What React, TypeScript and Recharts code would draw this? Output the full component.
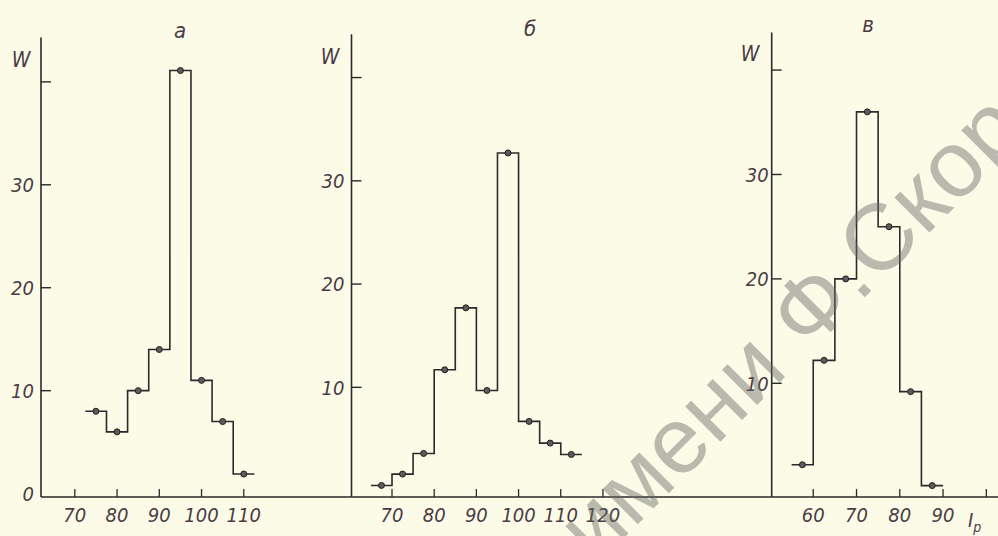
import React from "react";
import { ComposedChart, Line, XAxis, YAxis } from "recharts";

// panel а
const binsA = [75, 80, 85, 90, 95, 100, 105, 110];
const wA = [8, 6, 10, 14, 41.1, 11, 7, 1.9];
const xTicksA = [70, 80, 90, 100, 110];
const yTicksA = [0, 10, 20, 30, 40];

// panel б
const binsB = [67.5, 72.5, 77.5, 82.5, 87.5, 92.5, 97.5, 102.5, 107.5, 112.5];
const wB = [0.5, 1.6, 3.6, 11.7, 17.7, 9.7, 32.7, 6.7, 4.6, 3.5];
const xTicksB = [70, 80, 90, 100, 110, 120];
const yTicksB = [10, 20, 30, 40];

// panel в
const binsC = [57.5, 62.5, 67.5, 72.5, 77.5, 82.5, 87.5];
const wC = [2.2, 12.2, 20, 36, 25, 9.2, 0.2];
const xTicksC = [60, 70, 80, 90, 100];
const yTicksC = [10, 20, 30, 40];

const BIN = 5;
const INK = "#2a2a2a";
const TXT = "#4a3b45";
const FONT = "'Liberation Sans Narrow', 'DejaVu Sans Condensed', 'Liberation Sans', sans-serif";

type PanelProps = {
  bins: number[];
  w: number[];
  xTicks: number[];
  yTicks: number[];
  xDomain: [number, number];
  yDomain: [number, number];
  left: number;
  right: number;
  top: number;
  labelGap: number;
  showZero?: boolean;
  hideX?: number[];
};

function Panel(p: PanelProps) {
  const centers = p.bins.map((x, i) => ({ x, w: p.w[i] }));
  const steps = p.bins.map((x, i) => ({ x: x - BIN / 2, w: p.w[i] }));
  steps.push({ x: p.bins[p.bins.length - 1] + BIN / 2, w: p.w[p.w.length - 1] });

  const yTick = (props: any) => {
    const { x, y, payload } = props;
    const v = payload.value;
    const label = v === 40 ? "" : v === 0 && !p.showZero ? "" : String(v);
    return (
      <g>
        {v !== 0 && <line x1={x} x2={x + 10} y1={y} y2={y} stroke={INK} strokeWidth={1.4} />}
        <text x={x - p.labelGap} y={y} dy="0.36em" textAnchor="end" fontFamily={FONT}
          fontStyle="italic" fontSize={20} fill={TXT}>{label}</text>
      </g>
    );
  };

  const xTick = (props: any) => {
    const { x, y, payload } = props;
    const v = payload.value;
    const hidden = p.hideX && p.hideX.includes(v);
    return (
      <g>
        <line x1={x} x2={x} y1={y} y2={y - 8} stroke={INK} strokeWidth={1.3} />
        {!hidden && (
          <text x={x} y={y + 25} textAnchor="middle" fontFamily={FONT} fontStyle="italic"
            fontSize={20} fill={TXT}>{v}</text>
        )}
      </g>
    );
  };

  const yw = 40;
  return (
    <div style={{ position: "absolute", left: 0, top: 0 }}>
      <ComposedChart width={998} height={536}
        margin={{ left: p.left - yw, right: 998 - p.right, top: p.top, bottom: 0 }}>
        <XAxis type="number" dataKey="x" domain={p.xDomain} ticks={p.xTicks} allowDataOverflow
          height={39} tickSize={0} tickMargin={0} tickLine={false} interval={0}
          axisLine={{ stroke: INK, strokeWidth: 1.6 }} tick={xTick} />
        <YAxis type="number" domain={p.yDomain} ticks={p.yTicks} allowDataOverflow width={yw}
          tickSize={0} tickMargin={0} tickLine={false} interval={0}
          axisLine={{ stroke: INK, strokeWidth: 1.6 }} tick={yTick} />
        <Line data={steps} dataKey="w" type="stepAfter" stroke={INK} strokeWidth={1.6}
          dot={false} isAnimationActive={false} />
        <Line data={centers} dataKey="w" stroke="none" isAnimationActive={false}
          dot={{ r: 3, fill: "#5c5c5c", stroke: "#1e1e1e", strokeWidth: 1 }} />
      </ComposedChart>
    </div>
  );
}

export default function App() {
  const t = { fontFamily: FONT, fontStyle: "italic" as const, fill: TXT };
  return (
    <div style={{ position: "absolute", left: 0, top: 0, width: 998, height: 536,
      background: "#fcfbe7", overflow: "hidden" }}>
      <Panel bins={binsA} w={wA} xTicks={xTicksA} yTicks={yTicksA} xDomain={[62, 135.5]}
        yDomain={[-0.33, 44.3]} left={41} right={351.5} top={37.6} labelGap={7} showZero />
      <Panel bins={binsB} w={wB} xTicks={xTicksB} yTicks={yTicksB} xDomain={[60.4, 160]}
        yDomain={[-0.62, 44.2]} left={351.5} right={771.7} top={34.2} labelGap={7} />
      <Panel bins={binsC} w={wC} xTicks={xTicksC} yTicks={yTicksC} xDomain={[50.4, 102.7]}
        yDomain={[-0.89, 43.6]} left={771.7} right={998} top={32.5} labelGap={3} hideX={[100]} />
      <svg width={998} height={536} style={{ position: "absolute", left: 0, top: 0, pointerEvents: "none" }}>
        <text x={21} y={67} textAnchor="middle" fontSize={21} {...t}>W</text>
        <text x={330} y={64} textAnchor="middle" fontSize={21} {...t}>W</text>
        <text x={750} y={61} textAnchor="middle" fontSize={21} {...t}>W</text>
        <text x={180} y={38} textAnchor="middle" fontSize={22} {...t}>а</text>
        <text x={530} y={36} textAnchor="middle" fontSize={22} {...t}>б</text>
        <text x={868} y={32} textAnchor="middle" fontSize={22} {...t}>в</text>
        <text x={968} y={527} fontSize={20} {...t}>I<tspan dy={5} fontSize={14}>p</tspan></text>
        <text x={596} y={566} transform="rotate(-45 596 566)" fontSize={94}
          fontFamily="'Liberation Sans', Arial, sans-serif" fill="rgba(105,105,105,0.45)">
          имени Ф.Скорины
        </text>
      </svg>
    </div>
  );
}
